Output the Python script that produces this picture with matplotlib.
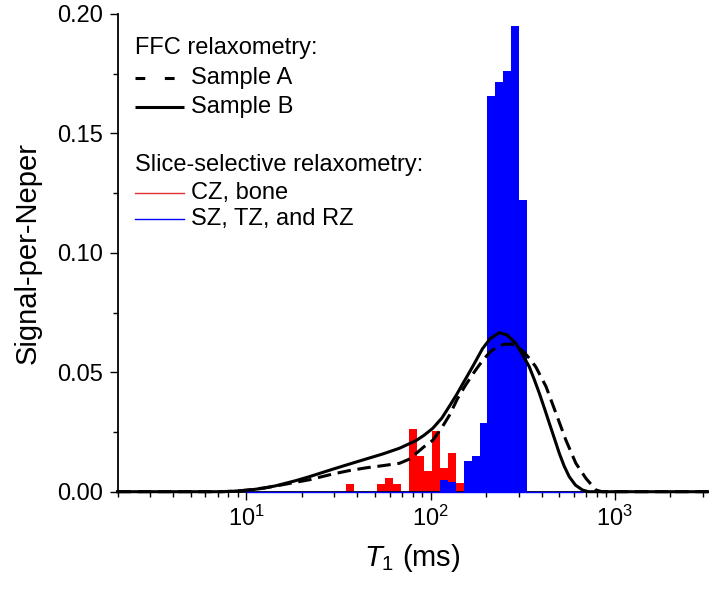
import matplotlib
matplotlib.use("Agg")
import matplotlib.pyplot as plt
from matplotlib.ticker import LogLocator, LogFormatterSciNotation, MultipleLocator, FormatStrFormatter, NullFormatter
from matplotlib.lines import Line2D

plt.rcParams['font.family'] = ['Liberation Sans', 'DejaVu Sans']
plt.rcParams['mathtext.fontset'] = 'custom'
plt.rcParams['mathtext.rm'] = 'Liberation Sans'
plt.rcParams['mathtext.it'] = 'Liberation Sans:italic'
plt.rcParams['mathtext.default'] = 'regular'

# ---- data ----
sample_a_t = [2, 7.5, 9, 10.4, 12.5, 14.5, 18.7, 22, 29.4, 36, 44.7, 55, 67.8, 76, 83.4, 92,
              102.6, 115, 126.5, 140, 155, 175, 191, 210, 230, 250, 275, 300, 320, 343,
              372, 423, 479, 542, 614, 696, 789, 850, 3200]
sample_a_v = [0, 0, 0.0003, 0.0008, 0.0016, 0.0024, 0.0040, 0.0050, 0.0074, 0.0088, 0.0100,
              0.0109, 0.0119, 0.0135, 0.0160, 0.0188, 0.0215, 0.0268, 0.0320, 0.0390, 0.0447,
              0.0508, 0.0548, 0.0585, 0.0607, 0.0617, 0.0618, 0.0605, 0.0585, 0.0559, 0.0523,
              0.0440, 0.0328, 0.0216, 0.0119, 0.0056, 0.0007, 0, 0]

sample_b_t = [2, 7.2, 8.5, 10.4, 12.5, 14.5, 18.7, 22, 29.4, 36, 44.7, 55, 67.8, 83.4, 92,
              102.6, 115, 126.5, 138, 149, 170, 191, 210, 236, 260, 290, 315, 343, 365, 389,
              415, 441, 470, 499, 530, 565, 610, 667, 720, 3200]
sample_b_v = [0, 0, 0.0002, 0.0007, 0.0015, 0.0025, 0.0047, 0.0063, 0.0094, 0.0115, 0.0137,
              0.0158, 0.0182, 0.0214, 0.0236, 0.0265, 0.0308, 0.0358, 0.0405, 0.0450, 0.0527,
              0.0598, 0.0640, 0.0666, 0.0656, 0.0621, 0.0575, 0.0523, 0.0470, 0.0412, 0.0348,
              0.0286, 0.0222, 0.0161, 0.0108, 0.0063, 0.0028, 0.0007, 0, 0]

hist_edges = [34.7, 38.2, 42.2, 46.6, 51.4, 56.7, 62.5, 69.0, 76.1, 84.0, 92.6, 102.2, 112.7,
              124.3, 137.2, 151.4, 167.0, 184.2, 203.3, 224.2, 247.4, 272.9, 301.1, 332.2]
cz_values = [0.0031, 0, 0, 0, 0.0031, 0.0059, 0.0031, 0, 0.0263, 0.0149, 0.0087, 0.0254,
             0.0100, 0.0161, 0.0035, 0, 0, 0, 0, 0, 0, 0, 0]
sz_values = [0, 0, 0, 0, 0, 0, 0, 0, 0, 0, 0, 0, 0.0049, 0.0041, 0, 0.0130, 0.0149, 0.0286,
             0.1657, 0.1717, 0.1762, 0.1950, 0.1220]
hist_span = [10, 670]

x_limits = [2, 3200]
y_limits = [0, 0.20]

legend_title_1 = "FFC relaxometry:"
legend_labels_ffc = ["Sample A", "Sample B"]
legend_title_2 = "Slice-selective relaxometry:"
legend_labels_slice = ["CZ, bone", "SZ, TZ, and RZ"]

# ---- figure ----
fig = plt.figure(figsize=(7.09, 5.92), dpi=100)
ax = fig.add_axes([117.5 / 709, 1 - 491.7 / 592, (708 - 117.5) / 709, (491.7 - 14) / 592])

ax.stairs(cz_values, hist_edges, fill=True, color='#ff0000', lw=0, zorder=2)
ax.stairs(sz_values, hist_edges, fill=True, color='#0000ff', lw=0, zorder=3)
ax.hlines(0, hist_span[0], hist_span[1], color='#0000ff', lw=1.0, zorder=6, clip_on=False)

lw = 2.2
ax.plot(sample_a_t, sample_a_v, color='black', lw=lw, ls=(0, (4.4, 2.2)), zorder=5,
        clip_on=False, solid_capstyle='butt', dash_capstyle='butt')
ax.plot(sample_b_t, sample_b_v, color='black', lw=lw, zorder=5, clip_on=False)

ax.set_xscale('log')
ax.set_xlim(*x_limits)
ax.set_ylim(*y_limits)

ax.xaxis.set_major_locator(LogLocator(base=10, numticks=10))
ax.xaxis.set_minor_locator(LogLocator(base=10, subs=range(2, 10), numticks=20))
ax.xaxis.set_major_formatter(LogFormatterSciNotation())
ax.xaxis.set_minor_formatter(NullFormatter())
ax.yaxis.set_major_locator(MultipleLocator(0.05))
ax.yaxis.set_minor_locator(MultipleLocator(0.025))
ax.yaxis.set_major_formatter(FormatStrFormatter('%.2f'))

for s in ['top', 'right']:
    ax.spines[s].set_visible(False)
for s in ['left', 'bottom']:
    ax.spines[s].set_linewidth(1.3)

ax.tick_params(axis='both', which='major', direction='out', length=5.8, width=1.0, labelsize=17)
ax.tick_params(axis='both', which='minor', direction='out', length=3.3, width=1.0)
ax.tick_params(axis='x', which='major', pad=4)
ax.tick_params(axis='y', which='major', pad=5)

ax.set_ylabel('Signal-per-Neper', fontsize=21, labelpad=11)
ax.set_xlabel(r'$\mathit{T}_{1}$ (ms)', fontsize=21, labelpad=8)

# ---- legend (manual) ----
def px(x, y):
    return ((x - 117.5) / (708 - 117.5), (491.7 - y) / (491.7 - 14))

fs = 17
tx, ty = px(135, 48.3)
ax.text(tx, ty, legend_title_1, transform=ax.transAxes, fontsize=fs, va='center', ha='left')
rows = [78.3, 107.3]
styles = [dict(ls=(0, (3.2, 6.4)), color='black', lw=lw), dict(ls='-', color='black', lw=lw)]
for lab, yy, st in zip(legend_labels_ffc, rows, styles):
    x0, y0 = px(135, yy)
    x1, _ = px(184, yy)
    ax.add_line(Line2D([x0, x1], [y0, y0], transform=ax.transAxes, clip_on=False,
                       dash_capstyle='butt', solid_capstyle='butt', **st))
    xt, _ = px(191, yy)
    ax.text(xt, y0, lab, transform=ax.transAxes, fontsize=fs, va='center', ha='left')

tx, ty = px(135, 165)
ax.text(tx, ty, legend_title_2, transform=ax.transAxes, fontsize=fs, va='center', ha='left')
rows = [192.7, 219.3]
cols = ['#e03030', '#0000ff']
for lab, yy, c in zip(legend_labels_slice, rows, cols):
    x0, y0 = px(135, yy)
    x1, _ = px(184, yy)
    ax.add_line(Line2D([x0, x1], [y0, y0], transform=ax.transAxes, clip_on=False, color=c, lw=1.0))
    xt, _ = px(191, yy)
    ax.text(xt, y0, lab, transform=ax.transAxes, fontsize=fs, va='center', ha='left')

fig.savefig('out.png', dpi=100)
